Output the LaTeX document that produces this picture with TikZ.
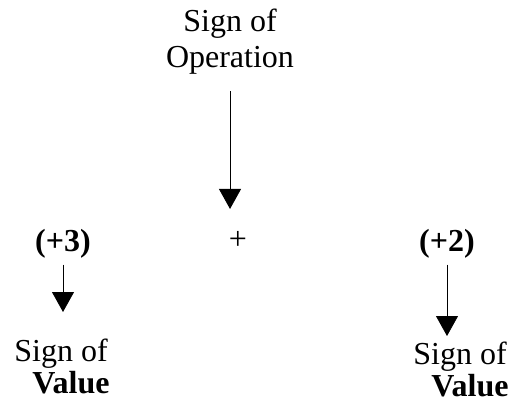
\documentclass[tikz,border=0pt]{standalone}
\usepackage{fontspec}
\setmainfont{Liberation Serif}
\usepackage{tikz}
\usetikzlibrary{
	arrows.meta,
	calc,
	positioning,
}
\tikzset{txt node/.style={draw=none,inner sep=0mm,outer sep=0mm,font=\fontsize{16}{18}\selectfont,align=center,}}
\tikzset{val/.style={txt node,font=\fontsize{16}{16}\selectfont\bfseries,}}
\tikzset{lbl/.style={txt node,font=\fontsize{16}{16}\selectfont,anchor=north,}}
\tikzset{
	>={Triangle[width=11pt,length=10pt]},
	line width=1pt,
}

\begin{document}
\begin{tikzpicture}[x=0.5pt,y=-0.5pt]
\useasboundingbox (0,0) rectangle (512,405);

\node[txt node,anchor=north](op) at(230,9) {Sign of\\Operation};
\node[txt node](plus) at(238,240) {+};

\node[val](v1) at(63,244) {(+3)};
\node[val](v2) at(447,244) {(+2)};

\node[lbl](s1) at(61,339) {Sign of\\\hspace*{10pt}\textbf{Value}};
\node[lbl](s2) at(460,342) {Sign of\\\hspace*{10pt}\textbf{Value}};

\draw[->,shorten <=8.5pt,shorten >=11pt] (op.south) -- (op.south |- plus.north);
\draw[->,shorten <=3pt,shorten >=13.5pt] (v1.south) -- (v1.south |- s1.north);
\draw[->,shorten <=3pt,shorten >=3pt] (v2.south) -- (v2.south |- s2.north);

\end{tikzpicture}
\end{document}
